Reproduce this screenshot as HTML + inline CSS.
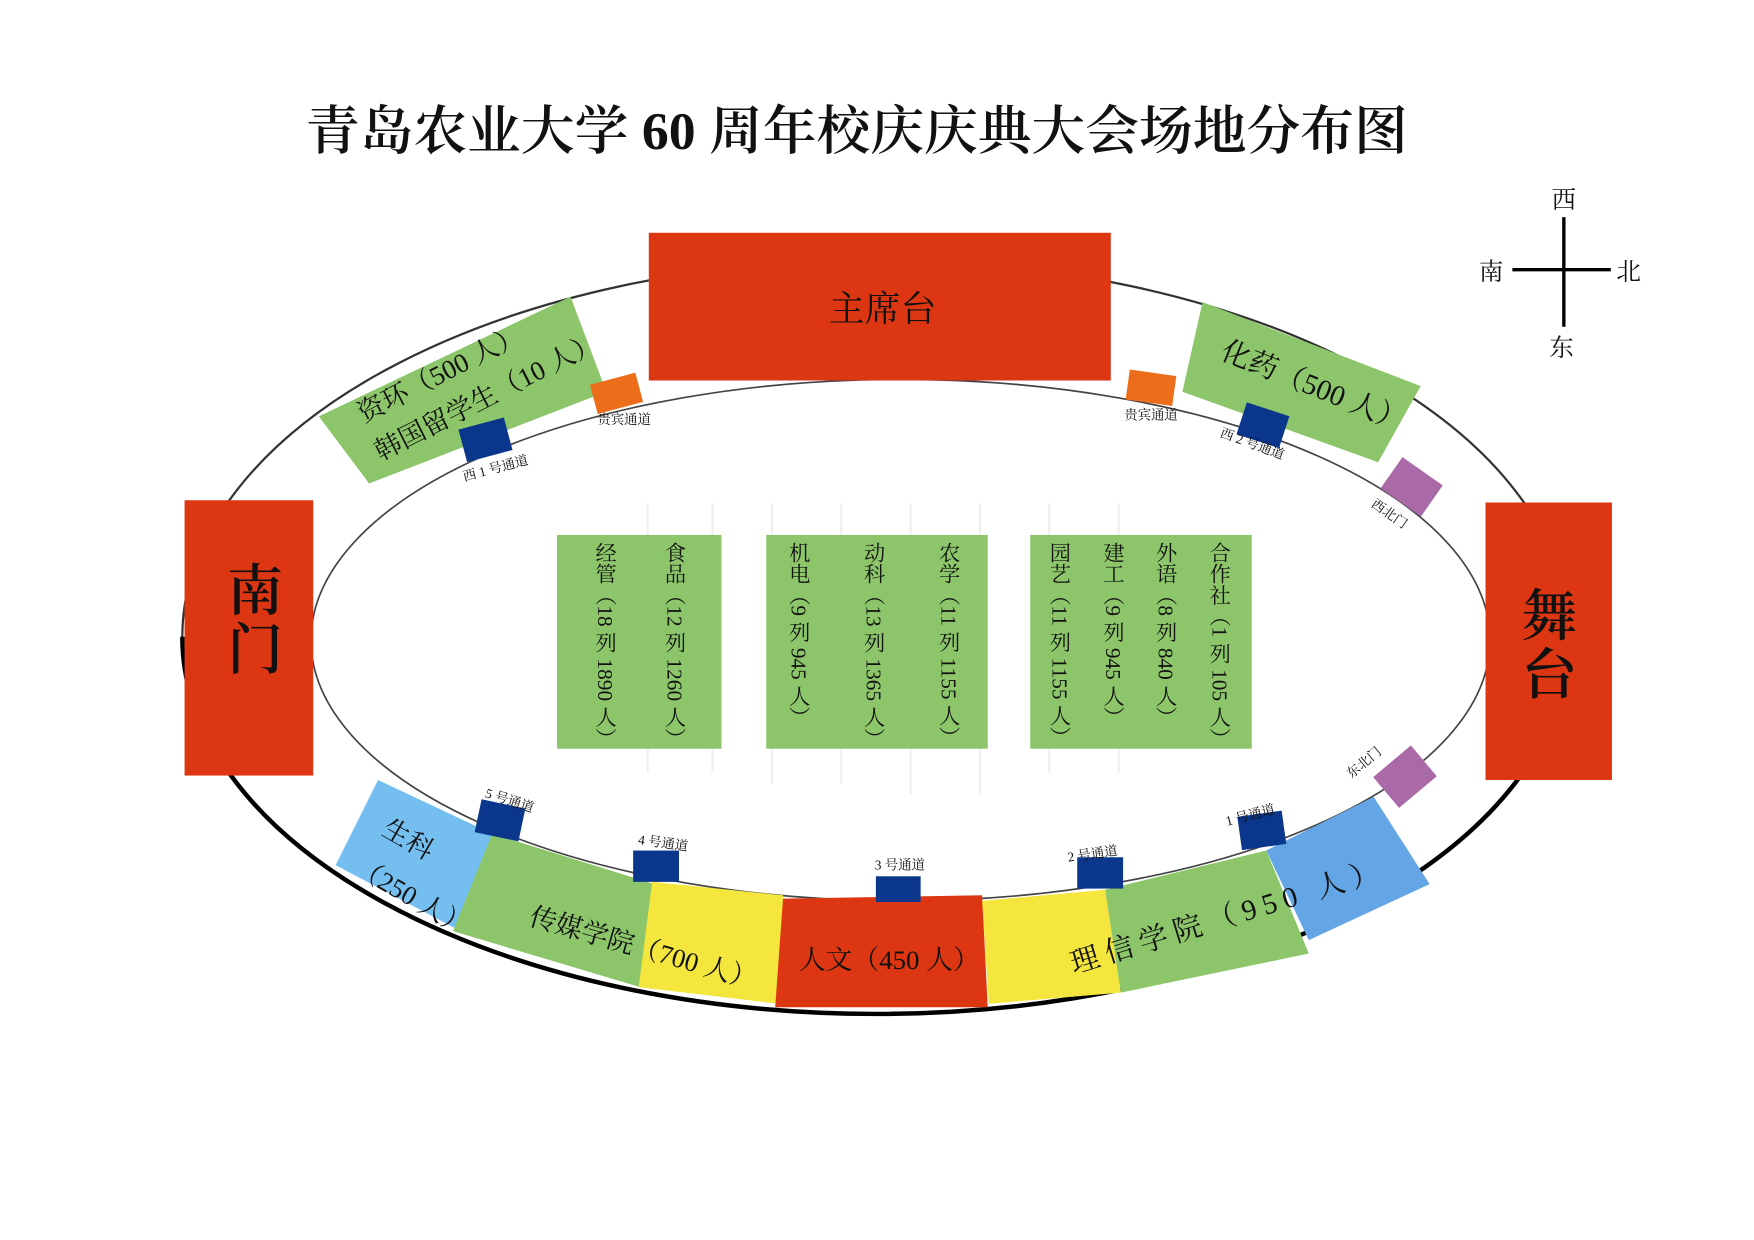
<!DOCTYPE html>
<html><head><meta charset="utf-8"><style>
html,body{margin:0;padding:0;background:#fff;}
svg{display:block}
text{font-family:"Liberation Serif","Noto Serif CJK SC","Noto Sans CJK SC",serif;fill:#111}
</style></head><body>
<svg width="1754" height="1240" viewBox="0 0 1568 1108" preserveAspectRatio="none" xmlns="http://www.w3.org/2000/svg">
<rect width="1568" height="1108" fill="#fff"/>
<text x="766" y="133" font-size="47" text-anchor="middle" font-weight="600" textLength="985" lengthAdjust="spacingAndGlyphs">青岛农业大学 60 周年校庆庆典大会场地分布图</text>

<!-- compass -->
<line x1="1398" y1="194" x2="1398" y2="292" stroke="#000" stroke-width="3"/>
<line x1="1352" y1="241" x2="1440" y2="241" stroke="#000" stroke-width="3"/>
<text x="1398" y="186" font-size="22" text-anchor="middle">西</text>
<text x="1333" y="250" font-size="22" text-anchor="middle">南</text>
<text x="1456" y="250" font-size="22" text-anchor="middle">北</text>
<text x="1396" y="318" font-size="22" text-anchor="middle">东</text>

<!-- ellipses -->
<ellipse cx="783" cy="569" rx="620" ry="337" fill="none" stroke="#333" stroke-width="2"/>
<path d="M 163 569 A 620 337 0 0 0 1403 569" fill="none" stroke="#000" stroke-width="4"/>
<ellipse cx="805" cy="572" rx="527" ry="233" fill="none" stroke="#444" stroke-width="1.5"/>

<!-- faint lines -->
<g stroke="#eee" stroke-width="2">
<line x1="579" y1="450" x2="579" y2="690"/><line x1="637" y1="450" x2="637" y2="690"/>
<line x1="690" y1="450" x2="690" y2="700"/><line x1="752" y1="450" x2="752" y2="700"/>
<line x1="814" y1="450" x2="814" y2="710"/><line x1="876" y1="450" x2="876" y2="710"/>
<line x1="938" y1="450" x2="938" y2="690"/><line x1="1000" y1="450" x2="1000" y2="690"/>
</g>

<!-- red blocks -->
<rect x="580" y="208" width="413" height="132" fill="#dc3612"/>
<text x="789" y="287" font-size="32" text-anchor="middle">主席台</text>
<rect x="165" y="447" width="115" height="246" fill="#dc3612"/>
<text x="228" y="545" font-size="50" text-anchor="middle" font-weight="600">南</text>
<text x="228" y="598" font-size="50" text-anchor="middle" font-weight="600">门</text>
<rect x="1328" y="449" width="113" height="248" fill="#dc3612"/>
<text x="1385" y="568" font-size="50" text-anchor="middle" font-weight="600">舞</text>
<text x="1385" y="620" font-size="50" text-anchor="middle" font-weight="600">台</text>

<!-- center green blocks -->
<rect x="498" y="478" width="147" height="191" fill="#8cc56a"/>
<rect x="685" y="478" width="198" height="191" fill="#8cc56a"/>
<rect x="921" y="478" width="198" height="191" fill="#8cc56a"/>
<g font-size="19" writing-mode="tb">
<text x="541" y="484">经管（18 列 1890 人）</text>
<text x="603" y="484">食品（12 列 1260 人）</text>
<text x="714" y="484">机电（9 列 945 人）</text>
<text x="781" y="484">动科（13 列 1365 人）</text>
<text x="848" y="484">农学（11 列 1155 人）</text>
<text x="947" y="484">园艺（11 列 1155 人）</text>
<text x="995" y="484">建工（9 列 945 人）</text>
<text x="1042" y="484">外语（8 列 840 人）</text>
<text x="1090" y="484">合作社（1 列 105 人）</text>
</g>

<!-- top-left band -->
<polygon points="285,372 510,265 542,350 330,432" fill="#8cc56a"/>
<text transform="translate(325,378) rotate(-27)" font-size="24">资环（500 人）</text>
<text transform="translate(340,412) rotate(-27)" font-size="24">韩国留学生（10 人）</text>
<!-- top-right band -->
<polygon points="1075,270 1270,345 1232,413 1057,350" fill="#8cc56a"/>
<text transform="translate(1090,320) rotate(22)" font-size="26">化药（500 人）</text>

<!-- small markers -->
<rect x="413" y="378" width="42" height="30" fill="#0a368c" transform="rotate(-15 434 393)"/>
<text transform="translate(415,430) rotate(-15)" font-size="12">西 1 号通道</text>
<rect x="530" y="338" width="42" height="27" fill="#ec6e1a" transform="rotate(-15 551 351)"/>
<text x="534" y="379" font-size="12">贵宾通道</text>
<rect x="1008" y="333" width="42" height="27" fill="#ec6e1a" transform="rotate(8 1029 346)"/>
<text x="1005" y="375" font-size="12">贵宾通道</text>
<rect x="1109" y="365" width="40" height="30" fill="#0a368c" transform="rotate(18 1129 380)"/>
<text transform="translate(1090,390) rotate(20)" font-size="12">西 2 号通道</text>
<rect x="1240" y="418" width="44" height="34" fill="#a96aa7" transform="rotate(35 1262 435)"/>
<text transform="translate(1225,452) rotate(35)" font-size="12">西北门</text>
<rect x="1234" y="676" width="44" height="36" fill="#a96aa7" transform="rotate(-40 1256 694)"/>
<text transform="translate(1208,696) rotate(-40)" font-size="12">东北门</text>

<!-- bottom band -->
<polygon points="338,697 440,745 408,830 300,773" fill="#75bff0"/>
<text transform="translate(340,745) rotate(30)" font-size="24">生科</text>
<text transform="translate(315,780) rotate(30)" font-size="24">（250 人）</text>
<polygon points="440,745 585,790 572,882 405,832" fill="#8cc56a"/>
<polygon points="583,788 700,800 697,897 571,882" fill="#f4e63c"/>
<polygon points="700,803 878,800 883,900 693,900" fill="#dc3612"/>
<polygon points="878,805 988,795 1002,887 884,897" fill="#f4e63c"/>
<polygon points="988,795 1132,760 1170,852 1002,887" fill="#8cc56a"/>
<polygon points="1132,760 1228,712 1278,790 1170,840" fill="#64a5e6"/>
<text transform="translate(472,826) rotate(16)" font-size="24">传媒学院（700 人）</text>
<text x="714" y="866" font-size="24">人文（450 人）</text>
<text transform="translate(960,870) rotate(-17)" font-size="26" letter-spacing="6">理信学院（950 人）</text>

<rect x="427" y="718" width="40" height="30" fill="#0a368c" transform="rotate(12 447 733)"/>
<text transform="translate(433,712) rotate(18)" font-size="12">5 号通道</text>
<rect x="566" y="760" width="41" height="28" fill="#0a368c"/>
<text transform="translate(570,754) rotate(8)" font-size="12">4 号通道</text>
<rect x="783" y="783" width="40" height="23" fill="#0a368c"/>
<text x="782" y="777" font-size="12">3 号通道</text>
<rect x="963" y="766" width="41" height="28" fill="#0a368c"/>
<text transform="translate(955,770) rotate(-8)" font-size="12">2 号通道</text>
<rect x="1108" y="727" width="40" height="30" fill="#0a368c" transform="rotate(-8 1128 742)"/>
<text transform="translate(1097,738) rotate(-15)" font-size="12">1 号通道</text>
</svg>
</body></html>
